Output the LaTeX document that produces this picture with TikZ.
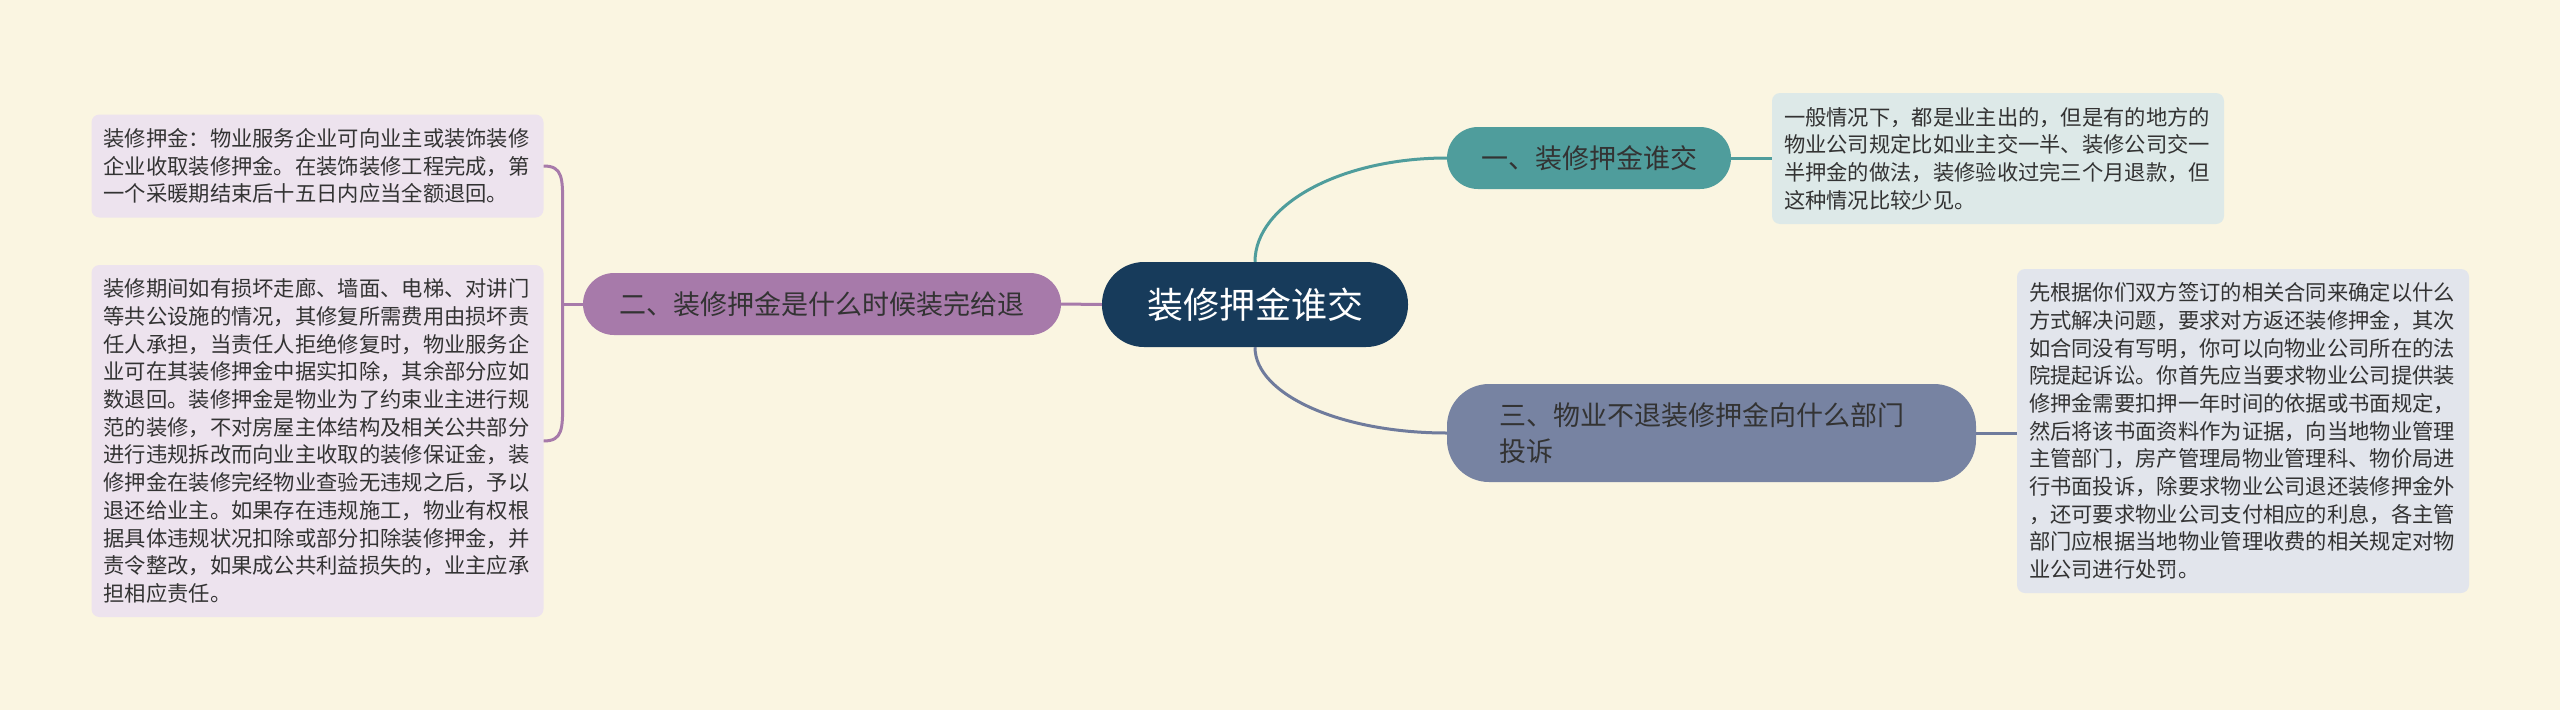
\documentclass[tikz,border=0pt]{standalone}
\usepackage{fontspec}
\newfontfamily\cjk{Noto Sans CJK SC}
\usetikzlibrary{calc}
\definecolor{bg}{HTML}{FAF5E1}
\definecolor{navy}{HTML}{173B5B}
\definecolor{tealc}{HTML}{4F9D9C}
\definecolor{purp}{HTML}{A77AAA}
\definecolor{slate}{HTML}{7783A2}
\definecolor{slateline}{HTML}{6F7B9C}
\definecolor{leafA}{HTML}{DDE9E8}
\definecolor{leafB}{HTML}{EDE3EE}
\definecolor{leafC}{HTML}{E2E5EC}
\definecolor{txt}{HTML}{333333}
\begin{document}
\begin{tikzpicture}[x=1pt,y=-1pt,
  leaf/.style={rounded corners=8pt, text width=428pt, inner xsep=12pt, align=left, text=txt,
    font=\cjk\fontsize{21.3pt}{27.7pt}\selectfont},
  topic/.style={rounded corners=31pt, text=txt, font=\cjk\fontsize{27pt}{36pt}\selectfont,
    minimum height=62pt, inner xsep=0pt},
  conn/.style={line width=3pt}]
\fill[bg] (0,0) rectangle (2560,710);
\useasboundingbox (0,0) rectangle (2560,710);

% central
\node[fill=navy, text=white, rounded corners=42pt, minimum width=306pt, minimum height=85pt,
  font=\cjk\fontsize{36pt}{40pt}\selectfont] (c) at (1255,304.5) {装修押金谁交};

% topics
\node[topic, fill=tealc, minimum width=284pt] (n1) at (1589,158) {一、装修押金谁交};
\node[topic, fill=purp, minimum width=478pt] (n2) at (822,304) {二、装修押金是什么时候装完给退};
\node[topic, fill=slate, rounded corners=42pt, minimum height=98pt, text width=425pt,
  inner xsep=52pt, align=left] (n3) at (1711.5,433) {三、物业不退装修押金向什么部门\\投诉};

% leaves
\node[leaf, fill=leafA, minimum height=131pt] (l1) at (1998,158.5)
 {一般情况下，都是业主出的，但是有的地方的\\物业公司规定比如业主交一半、装修公司交一\\半押金的做法，装修验收过完三个月退款，但\\这种情况比较少见。};
\node[leaf, fill=leafB, minimum height=103pt] (l2a) at (317.5,166)
 {装修押金：物业服务企业可向业主或装饰装修\\企业收取装修押金。在装饰装修工程完成，第\\一个采暖期结束后十五日内应当全额退回。};
\node[leaf, fill=leafB, minimum height=352pt] (l2b) at (317.5,441)
 {装修期间如有损坏走廊、墙面、电梯、对讲门\\等共公设施的情况，其修复所需费用由损坏责\\任人承担，当责任人拒绝修复时，物业服务企\\业可在其装修押金中据实扣除，其余部分应如\\数退回。装修押金是物业为了约束业主进行规\\范的装修，不对房屋主体结构及相关公共部分\\进行违规拆改而向业主收取的装修保证金，装\\修押金在装修完经物业查验无违规之后，予以\\退还给业主。如果存在违规施工，物业有权根\\据具体违规状况扣除或部分扣除装修押金，并\\责令整改，如果成公共利益损失的，业主应承\\担相应责任。};
\node[leaf, fill=leafC, minimum height=324pt] (l3) at (2243,431)
 {先根据你们双方签订的相关合同来确定以什么\\方式解决问题，要求对方返还装修押金，其次\\如合同没有写明，你可以向物业公司所在的法\\院提起诉讼。你首先应当要求物业公司提供装\\修押金需要扣押一年时间的依据或书面规定，\\然后将该书面资料作为证据，向当地物业管理\\主管部门，房产管理局物业管理科、物价局进\\行书面投诉，除要求物业公司退还装修押金外\\，还可要求物业公司支付相应的利息，各主管\\部门应根据当地物业管理收费的相关规定对物\\业公司进行处罚。};

% connectors
\coordinate (k1) at (c.north |- n1.west);
\coordinate (k3) at (c.south |- n3.west);
\draw[conn, tealc] (c.north) .. controls ($(c.north)!0.5523!(k1)$) and ($(n1.west)!0.5523!(k1)$) .. (n1.west);
\draw[conn, slateline] (c.south) .. controls ($(c.south)!0.5523!(k3)$) and ($(n3.west)!0.5523!(k3)$) .. (n3.west);
\draw[conn, purp] (c.west) -- (n2.east);
\draw[conn, tealc] (n1.east) -- (l1.west |- n1.east);
\draw[conn, slateline] (n3.east) -- (l3.west |- n3.east);
\coordinate (bj) at ($(n2.west)+(-20,0)$);
\draw[conn, purp] (n2.west) -- (bj);
\draw[conn, purp] (l2a.east) .. controls ($(l2a.east)+(19,0)$) and ($(l2a.east)+(19,12)$) .. ($(l2a.east)+(19,40)$)
  -- ($(l2b.east)+(19,-40)$) .. controls ($(l2b.east)+(19,-12)$) and ($(l2b.east)+(19,0)$) .. (l2b.east);
\end{tikzpicture}
\end{document}
